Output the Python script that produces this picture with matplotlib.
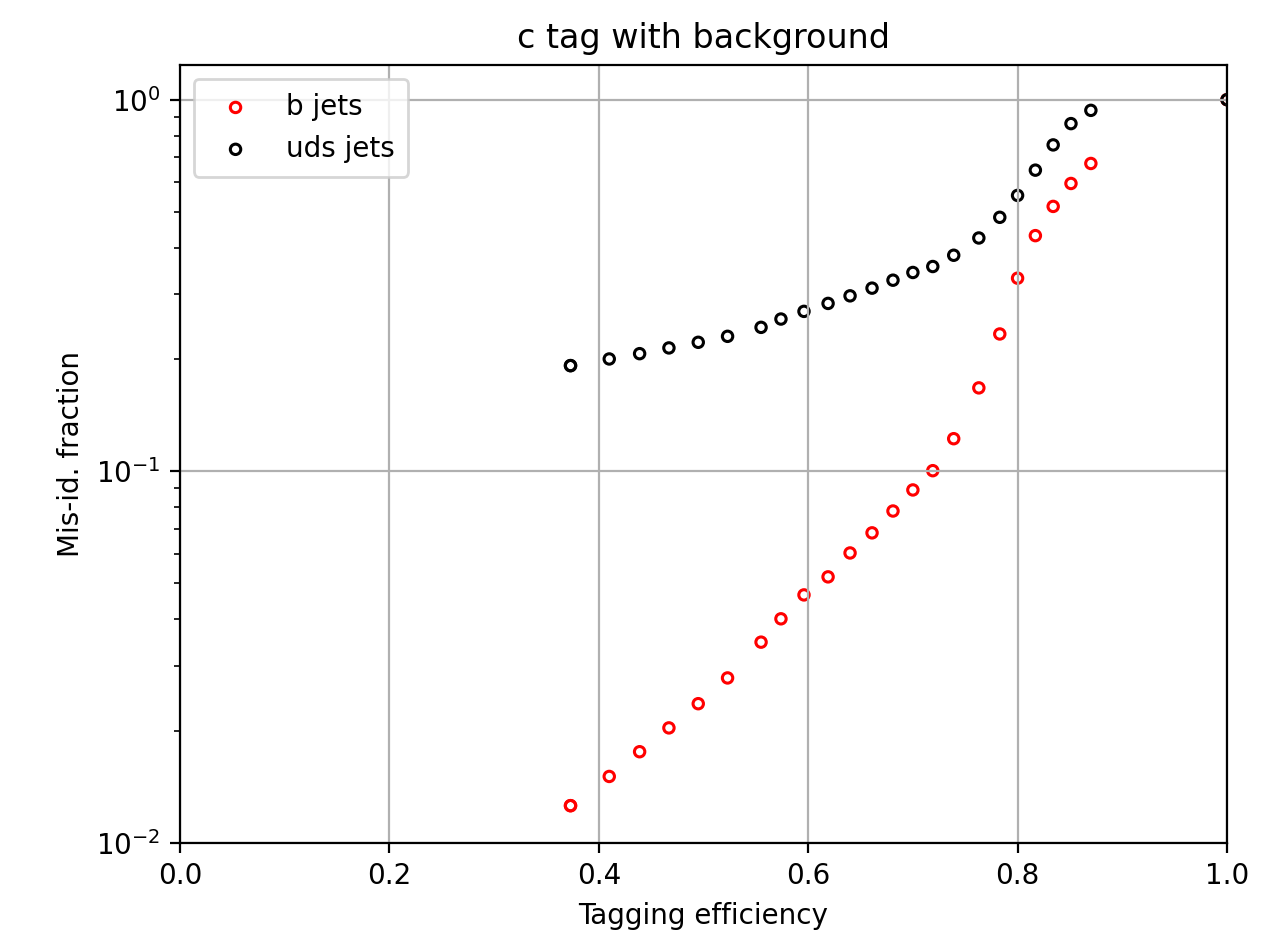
import matplotlib
matplotlib.use("Agg")
import matplotlib.pyplot as plt

# Tagging efficiency of the c-tag working points
efficiency = [0.373, 0.373, 0.410, 0.439, 0.467, 0.495, 0.523, 0.555, 0.574,
              0.596, 0.619, 0.640, 0.661, 0.681, 0.700, 0.719, 0.739, 0.763,
              0.783, 0.800, 0.817, 0.834, 0.851, 0.870, 1.0]

# Mis-identification fraction for b jets
b_misid = [0.0126, 0.0126, 0.0151, 0.0176, 0.0204, 0.0237, 0.0278, 0.0347,
           0.0401, 0.0465, 0.0520, 0.0603, 0.0683, 0.0782, 0.0891, 0.1004,
           0.1224, 0.1677, 0.2342, 0.3309, 0.4307, 0.5162, 0.595, 0.6735, 1.0]

# Mis-identification fraction for light (uds) jets
uds_misid = [0.1925, 0.1925, 0.2006, 0.2073, 0.2148, 0.2224, 0.2308, 0.2440,
             0.2569, 0.2694, 0.2830, 0.2966, 0.3111, 0.3268, 0.3428, 0.3557,
             0.3814, 0.4245, 0.4825, 0.5526, 0.6462, 0.7556, 0.8622, 0.936, 1.0]

fig = plt.figure(figsize=(6.36, 4.68), dpi=200)
ax = fig.add_axes([0.1415, 0.0994, 0.8231, 0.8312])

ax.scatter(efficiency, b_misid, s=14, facecolors="none", edgecolors="red",
           linewidths=1.1, label="b jets")
ax.scatter(efficiency, uds_misid, s=14, facecolors="none", edgecolors="black",
           linewidths=1.1, label="uds jets")

ax.set_yscale("log")
ax.set_xlim(0.0, 1.0)
ax.set_ylim(0.01, 1.24)
ax.grid(True)
ax.set_title("c tag with background")
ax.set_xlabel("Tagging efficiency")
ax.set_ylabel("Mis-id. fraction")
ax.legend(loc="upper left", borderpad=0.5)

fig.savefig("out.png", dpi=200)
